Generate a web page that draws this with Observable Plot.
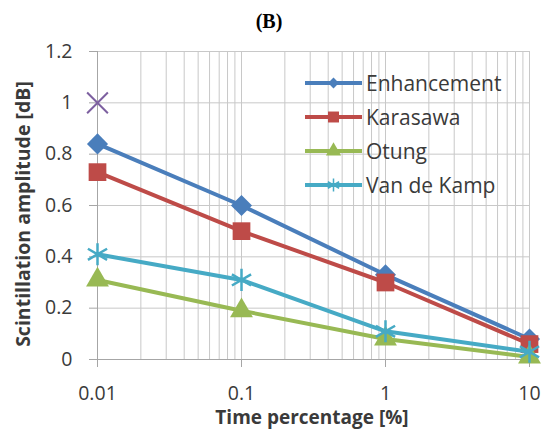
<!DOCTYPE html>
<html><head><meta charset="utf-8">
<script src="https://cdn.jsdelivr.net/npm/d3@7"></script>
<script src="https://cdn.jsdelivr.net/npm/@observablehq/plot@0.6"></script>
<style>
body{margin:0;background:#fff;}
#wrap{position:relative;width:545px;height:436px;font-family:"Open Sans",sans-serif;color:#3a3a3a;}
#wrap svg.plot{position:absolute;left:0;top:0;}
.title{position:absolute;left:269px;top:21px;transform:translate(-50%,-50%);font-family:"Liberation Serif","Times New Roman",serif;font-weight:bold;font-size:20px;color:#000;white-space:nowrap;}
.xlab{position:absolute;left:312px;top:417px;transform:translate(-50%,-50%);font-weight:bold;font-size:19px;white-space:nowrap;}
.ylab{position:absolute;left:22px;top:214px;transform:translate(-50%,-50%) rotate(-90deg);font-weight:bold;font-size:19.5px;white-space:nowrap;}
.legend{position:absolute;left:305px;top:66px;}
.legend .row{display:flex;align-items:center;height:34px;}
.legend .row span{font-size:21px;margin-left:4px;line-height:34px;}
</style></head><body><div id="wrap"></div>
<script>
const xValues = [0.01, 0.1, 1, 10];
const enhancement = [0.84, 0.60, 0.33, 0.08];
const karasawa = [0.73, 0.50, 0.30, 0.06];
const otung = [0.31, 0.19, 0.08, 0.01];
const vanDeKamp = [0.41, 0.31, 0.11, 0.03];
const extraX = [0.01];
const extraY = [1.0];
const seriesNames = ["Enhancement", "Karasawa", "Otung", "Van de Kamp"];
const seriesValues = [enhancement, karasawa, otung, vanDeKamp];
const colors = ["#4a7ebb", "#be4b48", "#98b954", "#46aac5"];
const extraColor = "#7d60a0";
const symbols = ["diamond2", "square", "triangle", "asterisk"];
const xTicks = [0.01, 0.1, 1, 10];
const yTicks = [0, 0.2, 0.4, 0.6, 0.8, 1.0, 1.2];
const xTickLabels = ["0.01", "0.1", "1", "10"];
const minorTicks = [0.01, 0.1, 1].flatMap(d => d3.range(1, 10).map(k => +(k * d).toPrecision(3))).concat([10]);

const radii = {diamond2: 9.5, square: 10, triangle: 8.5, asterisk: 10.5};

const seriesMarks = seriesNames.flatMap((name, i) => {
  const rows = xValues.map((x, j) => ({x, y: seriesValues[i][j]}));
  const sym = symbols[i];
  const filled = sym !== "asterisk";
  return [
    Plot.line(rows, {x: "x", y: "y", stroke: colors[i], strokeWidth: 4}),
    Plot.dot(rows, filled
      ? {x: "x", y: "y", symbol: sym, r: radii[sym], fill: colors[i], stroke: "none"}
      : {x: "x", y: "y", symbol: sym, r: radii[sym], stroke: colors[i], strokeWidth: 2.5, fill: "none"})
  ];
});

const extraRows = extraX.map((x, i) => ({x, y: extraY[i]}));

const chart = Plot.plot({
  width: 545,
  height: 436,
  marginLeft: 97,
  marginRight: 16,
  marginTop: 51,
  marginBottom: 77,
  style: {fontFamily: "Open Sans, sans-serif", fontSize: "19px", color: "#3a3a3a", background: "#fff"},
  x: {type: "log", domain: [0.01, 10]},
  y: {domain: [0, 1.2]},
  marks: [
    Plot.ruleX(minorTicks, {stroke: "#c8c8c8", strokeWidth: 1}),
    Plot.ruleY(yTicks, {stroke: "#c8c8c8", strokeWidth: 1}),
    Plot.ruleX([0.01], {stroke: "#a6a6a6", strokeWidth: 1}),
    Plot.ruleY([0], {stroke: "#a6a6a6", strokeWidth: 1}),
    Plot.axisY({ticks: yTicks, tickSize: 8, tickPadding: 17, tickFormat: d => String(Math.round(d * 10) / 10), fontSize: 19.5, label: null, stroke: "#a6a6a6", fill: "#3a3a3a"}),
    Plot.axisX({ticks: xTicks, tickSize: 8, tickPadding: 19, tickFormat: d => xTickLabels[xTicks.indexOf(d)] ?? String(d), fontSize: 19.5, label: null, stroke: "#a6a6a6", fill: "#3a3a3a"}),
    Plot.dot(extraRows, {x: "x", y: "y", symbol: "times", r: 9.5, stroke: extraColor, strokeWidth: 2}),
    ...seriesMarks
  ]
});
chart.classList.add("plot");

const wrap = document.getElementById("wrap");
wrap.appendChild(chart);

const title = document.createElement("div");
title.className = "title"; title.textContent = "(B)";
wrap.appendChild(title);
const xl = document.createElement("div");
xl.className = "xlab"; xl.textContent = "Time percentage [%]";
wrap.appendChild(xl);
const yl = document.createElement("div");
yl.className = "ylab"; yl.textContent = "Scintillation amplitude [dB]";
wrap.appendChild(yl);

const legend = document.createElement("div");
legend.className = "legend";
const legendSizes = {diamond2: 75, square: 120, triangle: 100, asterisk: 120};
seriesNames.forEach((name, i) => {
  const row = document.createElement("div");
  row.className = "row";
  const s = d3.create("svg").attr("width", 57).attr("height", 34);
  s.append("line").attr("x1", 0).attr("x2", 57).attr("y1", 17).attr("y2", 17)
    .attr("stroke", colors[i]).attr("stroke-width", 4);
  const symType = {diamond2: d3.symbolDiamond2, square: d3.symbolSquare, triangle: d3.symbolTriangle, asterisk: d3.symbolAsterisk}[symbols[i]];
  const p = s.append("path").attr("transform", "translate(28.5,17)")
    .attr("d", d3.symbol(symType, legendSizes[symbols[i]])());
  if (symbols[i] === "asterisk") p.attr("fill", "none").attr("stroke", colors[i]).attr("stroke-width", 1.5);
  else p.attr("fill", colors[i]);
  row.appendChild(s.node());
  const t = document.createElement("span");
  t.textContent = name;
  row.appendChild(t);
  legend.appendChild(row);
});
wrap.appendChild(legend);
</script>
</body></html>
